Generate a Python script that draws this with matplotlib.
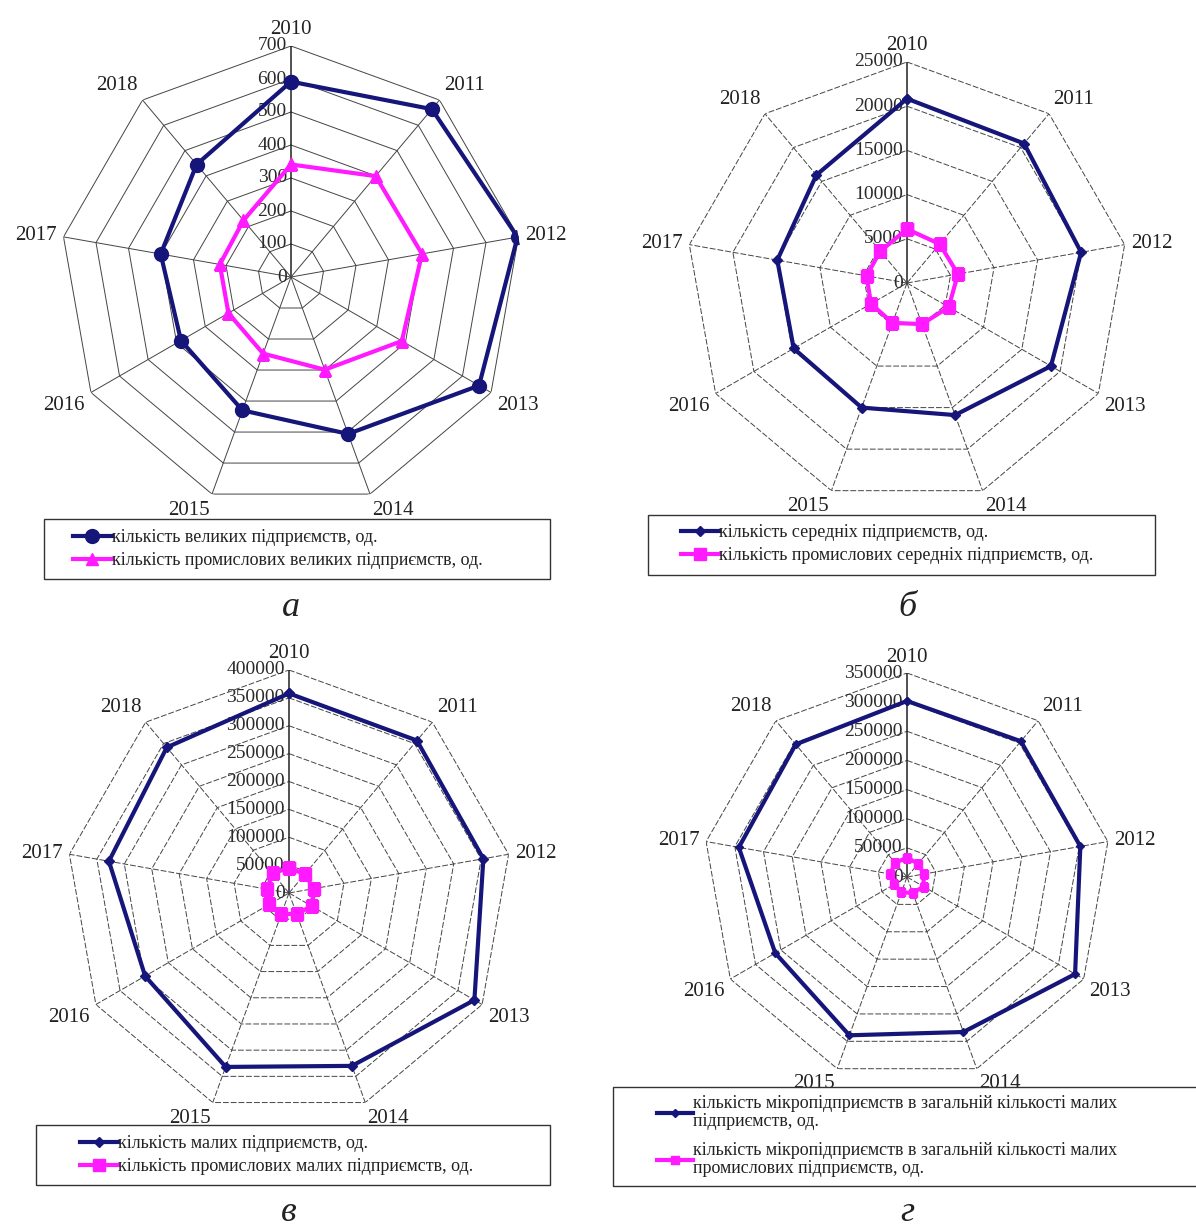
import numpy as np
import matplotlib
matplotlib.use('Agg')
import matplotlib.pyplot as plt
from matplotlib.patches import Rectangle

plt.rcParams['font.family'] = ['Liberation Serif', 'DejaVu Serif']

W, H = 1196, 1227

years = ['2010', '2011', '2012', '2013', '2014', '2015', '2016', '2017', '2018']

# a - large enterprises
large_total = [592, 664, 697, 658, 506, 430, 385, 401, 445]
large_ind = [341, 399, 403, 388, 299, 247, 219, 219, 224]
# b - medium enterprises
medium_total = [20850, 20600, 20000, 18800, 15900, 15000, 14800, 14900, 15950]
medium_ind = [6100, 5750, 5850, 5450, 4950, 4800, 4700, 4650, 4700]
# c - small enterprises
small_total = [358000, 357000, 354000, 384000, 330000, 332000, 298000, 328000, 341000]
small_ind = [45000, 44000, 45000, 47000, 40000, 40000, 41000, 40000, 46000]
# d - micro enterprises among small
micro_total = [302000, 304000, 302000, 333000, 283000, 289000, 261000, 293000, 297000]
micro_ind = [33000, 30000, 29000, 33000, 29000, 28000, 25000, 29000, 32000]

legend_a = ['кількість великих підприємств, од.',
            'кількість промислових великих підприємств, од.']
legend_b = ['кількість середніх підприємств, од.',
            'кількість промислових середніх підприємств, од.']
legend_c = ['кількість малих підприємств, од.',
            'кількість промислових малих підприємств, од.']
legend_d = ['кількість мікропідприємств в загальній кількості малих\nпідприємств, од.',
            'кількість мікропідприємств в загальній кількості малих\nпромислових підприємств, од.']

NAVY = '#15157a'
MAG = '#ff1aff'

fig = plt.figure(figsize=(W / 100, H / 100), dpi=100)


def radar(cx, cy, R, rmax, step, s1, s2, labels, m1, m2, ms1, ms2, box, hx, hy, hl,
          lsp, dashed, letter, lety):
    ax = fig.add_axes([(cx - R) / W, 1 - (cy + R) / H, 2 * R / W, 2 * R / H],
                      projection='polar')
    ax.set_theta_zero_location('N')
    ax.set_theta_direction(-1)
    ax.set_ylim(0, rmax)
    ax.set_axis_off()
    n = len(years)
    ang = np.arange(n) * 2 * np.pi / n
    angc = np.append(ang, ang[0])
    ls = (0, (6, 2)) if dashed else '-'
    rings = np.arange(step, rmax + step / 2, step)
    for r in rings:
        ax.plot(angc, [r] * (n + 1), color='#444444', lw=0.7, ls=ls, zorder=1)
    for i, a in enumerate(ang):
        if i == 0:
            ax.plot([a, a], [0, rmax], color='#222222', lw=1.1, zorder=1)
        else:
            ax.plot([a, a], [0, rmax], color='#444444', lw=0.7, ls=ls, zorder=1)
    # ring labels
    for r in np.append([0], rings):
        ax.annotate(f'{int(r)}', (0, r), xytext=(-3, 0), textcoords='offset points',
                    ha='right', va='center', fontsize=14, color='#2a2a2a', zorder=2)
    # category labels
    for a, y in zip(ang, years):
        s, c = np.sin(a), np.cos(a)
        ha = 'left' if s > 0.05 else ('right' if s < -0.05 else 'center')
        if c > 0.5:
            va = 'bottom'
        elif c > -0.3:
            va = 'center'
        else:
            va = 'top'
        ax.text(a, rmax * 1.03, y, ha=ha, va=va, fontsize=15, color='#222222')
    l1, = ax.plot(angc, s1 + s1[:1], color=NAVY, lw=3, marker=m1, ms=ms1, zorder=4)
    l2, = ax.plot(angc, s2 + s2[:1], color=MAG, lw=3, marker=m2, ms=ms2, zorder=3)
    # legend frame
    x0, y0, x1, y1 = box
    fig.patches.append(Rectangle((x0 / W, 1 - y1 / H), (x1 - x0) / W, (y1 - y0) / H,
                                 transform=fig.transFigure, fill=False,
                                 edgecolor='#333333', lw=1.0))
    leg = fig.legend([l1, l2], labels, loc='center left', frameon=False,
                     bbox_to_anchor=(hx / W, 1 - hy / H), borderaxespad=0, borderpad=0,
                     handlelength=hl, handletextpad=0, fontsize=13, labelspacing=lsp,
                     numpoints=1)
    for t in leg.get_texts():
        t.set_linespacing(1.05)
        t.set_color('#222222')
    fig.text(cx / W, 1 - lety / H, letter, ha='center', va='baseline',
             fontsize=26, style='italic', color='#222222')


radar(291, 277, 231, 700, 100, large_total, large_ind, legend_a, 'o', '^', 10, 9,
      (44, 519, 550, 579), 73, 549, 2.15, 0.35, False, 'а', 616)
radar(907, 283, 221, 25000, 5000, medium_total, medium_ind, legend_b, 'D', 's', 5, 9,
      (648, 515, 1155, 575), 681, 544, 2.1, 0.35, True, 'б', 616)
radar(289, 893, 223, 400000, 50000, small_total, small_ind, legend_c, 'D', 's', 5, 8,
      (36, 1125, 550, 1185), 80, 1155, 2.1, 0.35, True, 'в', 1221)
radar(907, 877, 204, 350000, 50000, micro_total, micro_ind, legend_d, 'D', 's', 4.5, 6,
      (613, 1087, 1200, 1186), 657, 1136, 2.0, 0.7, True, 'г', 1221)

fig.savefig('out.png', dpi=100)
